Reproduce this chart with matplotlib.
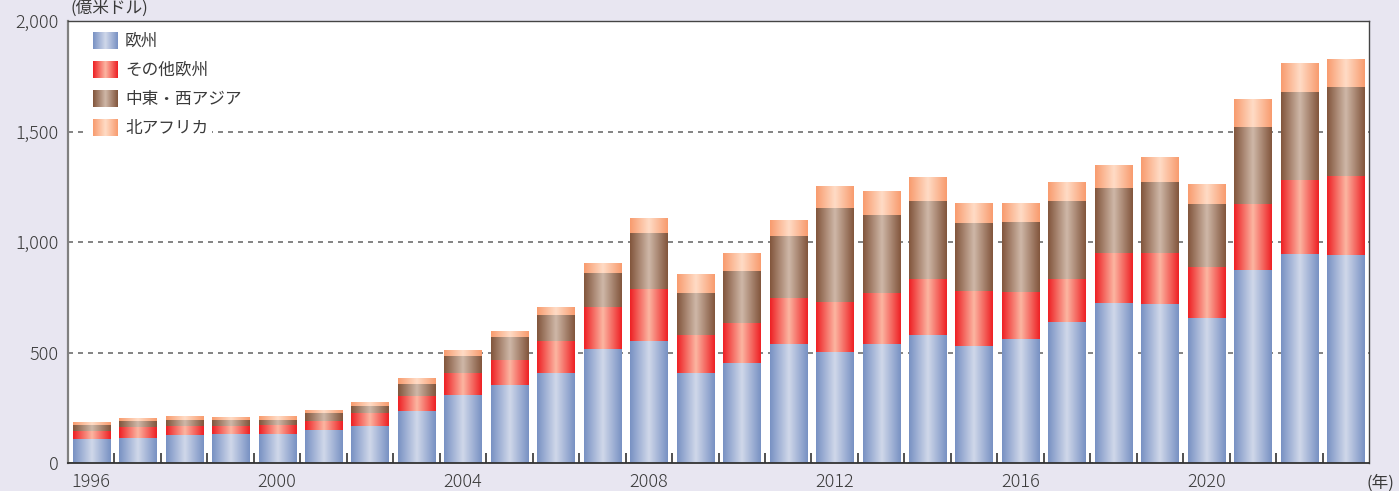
import numpy as np
import matplotlib.pyplot as plt
from matplotlib.colors import LinearSegmentedColormap
from matplotlib.patches import Rectangle

plt.rcParams['font.family'] = ['Noto Sans CJK JP', 'DejaVu Sans']

years = list(range(1996, 2024))
# 億米ドル
europe = [110, 116, 128, 133, 133, 151, 169, 237, 309, 355, 409, 517, 553, 409,
          454, 540, 504, 540, 581, 531, 562, 639, 725, 721, 657, 876, 948, 942]
other_europe = [36, 49, 41, 36, 41, 41, 59, 68, 100, 113, 144, 190, 235, 171,
                181, 208, 226, 230, 253, 248, 213, 195, 226, 230, 231, 298, 333, 359]
mideast = [28, 27, 29, 29, 24, 36, 32, 54, 77, 104, 118, 154, 253, 190,
           235, 280, 425, 353, 352, 308, 316, 352, 294, 321, 285, 347, 398, 401]
n_africa = [13, 13, 16, 12, 16, 13, 18, 23, 27, 27, 32, 45, 64, 82,
            77, 72, 99, 104, 104, 90, 82, 82, 100, 109, 90, 126, 131, 126]

labels = ['欧州', 'その他欧州', '中東・西アジア', '北アフリカ']
edge_cols = ['#7891c3', '#ee2024', '#82553c', '#f89b6e']
mid_cols = ['#d0d8ea', '#fcb6a2', '#cfb8a8', '#ffdcc6']
year_labels = [1996, 2000, 2004, 2008, 2012, 2016, 2020]

grad = np.linspace(0, 1, 128).reshape(1, -1)
txt_col = '#3a3a3a'

fig = plt.figure(figsize=(13.99, 4.91), dpi=100, facecolor='#e8e6f1')
ax = fig.add_axes([68 / 1399, 27.6 / 491, 1301 / 1399, 442.4 / 491])
ax.set_facecolor('white')

x = np.arange(len(years))
bottom = np.zeros(len(years))
for vals, ce, cm in zip([europe, other_europe, mideast, n_africa], edge_cols, mid_cols):
    cmap = LinearSegmentedColormap.from_list('g', [ce, cm, ce])
    bars = ax.bar(x, vals, 0.8, bottom=bottom, color='none', linewidth=0)
    for b in bars:
        bx, by = b.get_x(), b.get_y()
        ax.imshow(grad, cmap=cmap, aspect='auto', interpolation='bilinear',
                  extent=[bx, bx + b.get_width(), by, by + b.get_height()], zorder=2)
    bottom += np.array(vals)

# legend drawn by hand so the swatches keep the gradient
ax.add_patch(Rectangle((0.0155, 0.735), 0.0955, 0.26, transform=ax.transAxes,
                       facecolor='white', edgecolor='none', zorder=1.5))
for i, (lab, ce, cm) in enumerate(zip(labels, edge_cols, mid_cols)):
    cmap = LinearSegmentedColormap.from_list('g', [ce, cm, ce])
    y0 = 0.9367 - i * 0.0656
    ax.imshow(grad, cmap=cmap, aspect='auto', interpolation='bilinear',
              extent=[0.0192, 0.0384, y0, y0 + 0.0362], transform=ax.transAxes, zorder=3)
    ax.text(0.0438, y0 + 0.018, lab, transform=ax.transAxes, fontsize=12,
            color=txt_col, va='center', ha='left')

ax.set_xlim(-0.5, len(years) - 0.5)
ax.set_ylim(0, 2000)

ax.set_yticks([0, 500, 1000, 1500, 2000])
ax.set_yticklabels(['0', '500', '1,000', '1,500', '2,000'])
ax.set_xticks([years.index(y) for y in year_labels])
ax.set_xticklabels([str(y) for y in year_labels])
ax.set_xticks(x[:-1] + 0.5, minor=True)
ax.tick_params(axis='y', length=0, pad=7, labelsize=13, labelcolor=txt_col)
ax.tick_params(axis='x', which='major', length=0, pad=7, labelsize=13, labelcolor=txt_col)
ax.tick_params(axis='x', which='minor', direction='in', length=7, width=1.2, color='#333333')
for t in ax.get_xticklabels() + ax.get_yticklabels():
    t.set_fontweight('light')

ax.set_axisbelow(True)
ax.yaxis.grid(True, color='#6e6e6e', linestyle=(0, (3, 3)), linewidth=1.2, zorder=0.5)

ax.spines['left'].set_color('#808080')
ax.spines['left'].set_linewidth(1.6)
ax.spines['bottom'].set_color('#333333')
ax.spines['bottom'].set_linewidth(1.3)
for s in ['top', 'right']:
    ax.spines[s].set_color('#444444')
    ax.spines[s].set_linewidth(1.0)

fig.text(70 / 1399, 1.0, '(億米ドル)', fontsize=12, color=txt_col, va='top', ha='left')
fig.text(1367 / 1399, 8 / 491, '(年)', fontsize=12, color=txt_col, va='center', ha='left')

fig.savefig('out.png', dpi=100, facecolor=fig.get_facecolor())
